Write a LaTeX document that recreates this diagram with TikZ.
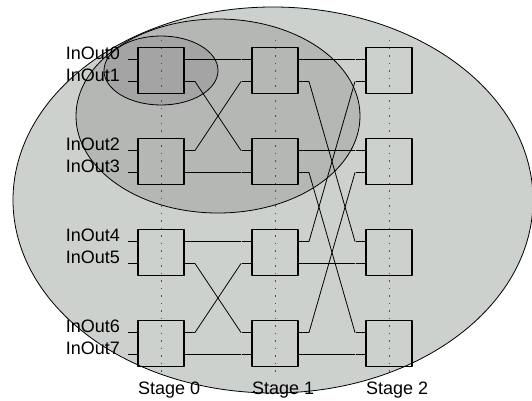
\documentclass[tikz,border=0pt]{standalone}
\usepackage{fontspec}
\setmainfont{Liberation Sans}
\usepackage{tikz}
\usetikzlibrary{arrows}
\definecolor{outergray}{RGB}{205,209,205}
\definecolor{midgray}{RGB}{180,183,180}
\definecolor{innergray}{RGB}{164,164,164}
\definecolor{axisgray}{RGB}{80,80,80}

\begin{document}
\begin{tikzpicture}[line cap=round,line join=round,x=1pt,y=1pt,
  switchbox/.style={draw,line width=1.4pt,minimum size=46pt,inner sep=0pt,outer sep=0pt},
  stub/.style={line width=1.8pt,line cap=butt},
  link/.style={line width=0.8pt},
  stageaxis/.style={axisgray,line width=1pt,line cap=butt,dash pattern=on 1.5pt off 6pt},
  portlabel/.style={anchor=base east,inner sep=0pt,font=\fontsize{18}{20}\selectfont},
  stagelabel/.style={anchor=base west,inner sep=0pt,font=\fontsize{18}{20}\selectfont}]
\useasboundingbox (0,0) rectangle (532,400);
% groups
\draw[fill=outergray,line width=0.8pt] (273,200) ellipse (260 and 193);
\draw[fill=midgray,line width=0.8pt] (218,284) ellipse (142 and 97);
\draw[fill=innergray,line width=0.8pt] (161,329.5) ellipse (57 and 34.5);
% stage axes
\draw[stageaxis] (161,360)-- (161,24);
\draw[stageaxis] (275,360)-- (275,24);
\draw[stageaxis] (389,360)-- (389,24);
% switches
\node[switchbox] (a1) at (161,329.5) {};
\node[switchbox] (a2) at (161,238.5) {};
\node[switchbox] (a3) at (161,147.5) {};
\node[switchbox] (a4) at (161,56.5) {};
\node[switchbox] (b1) at (275,329.5) {};
\node[switchbox] (b2) at (275,238.5) {};
\node[switchbox] (b3) at (275,147.5) {};
\node[switchbox] (b4) at (275,56.5) {};
\node[switchbox] (c1) at (389,329.5) {};
\node[switchbox] (c2) at (389,238.5) {};
\node[switchbox] (c3) at (389,147.5) {};
\node[switchbox] (c4) at (389,56.5) {};
\foreach \b in {a1,a2,a3,a4,b1,b2,b3,b4,c1,c2,c3,c4}{
  \draw[stub] ([yshift=11pt]\b.west)-- +(-10,0);
  \draw[stub] ([yshift=-11pt]\b.west)-- +(-10,0);
}
\foreach \b in {a1,a2,a3,a4,b1,b2,b3,b4}{
  \draw[stub] ([yshift=11pt]\b.east)-- +(11,0);
  \draw[stub] ([yshift=-11pt]\b.east)-- +(11,0);
}
% stage 0 -> stage 1
\draw[link] ([shift={(11,11)}]a1.east)-- ([shift={(-11,11)}]b1.west);
\draw[link] ([shift={(11,-11)}]a1.east)-- ([shift={(-11,11)}]b2.west);
\draw[link] ([shift={(11,11)}]a2.east)-- ([shift={(-11,-11)}]b1.west);
\draw[link] ([shift={(11,-11)}]a2.east)-- ([shift={(-11,-11)}]b2.west);
\draw[link] ([shift={(11,11)}]a3.east)-- ([shift={(-11,11)}]b3.west);
\draw[link] ([shift={(11,-11)}]a3.east)-- ([shift={(-11,11)}]b4.west);
\draw[link] ([shift={(11,11)}]a4.east)-- ([shift={(-11,-11)}]b3.west);
\draw[link] ([shift={(11,-11)}]a4.east)-- ([shift={(-11,-11)}]b4.west);
% stage 1 -> stage 2
\draw[link] ([shift={(11,11)}]b1.east)-- ([shift={(-11,11)}]c1.west);
\draw[link] ([shift={(11,-11)}]b1.east)-- ([shift={(-11,11)}]c3.west);
\draw[link] ([shift={(11,11)}]b2.east)-- ([shift={(-11,11)}]c2.west);
\draw[link] ([shift={(11,-11)}]b2.east)-- ([shift={(-11,11)}]c4.west);
\draw[link] ([shift={(11,11)}]b3.east)-- ([shift={(-11,-11)}]c1.west);
\draw[link] ([shift={(11,-11)}]b3.east)-- ([shift={(-11,-11)}]c3.west);
\draw[link] ([shift={(11,11)}]b4.east)-- ([shift={(-11,-11)}]c2.west);
\draw[link] ([shift={(11,-11)}]b4.east)-- ([shift={(-11,-11)}]c4.west);
% labels
\node[portlabel] (in0) at ([shift={(-18,11)}]a1.west) {InOut0};
\node[portlabel] (in1) at ([shift={(-18,-11)}]a1.west) {InOut1};
\node[portlabel] (in2) at ([shift={(-18,11)}]a2.west) {InOut2};
\node[portlabel] (in3) at ([shift={(-18,-11)}]a2.west) {InOut3};
\node[portlabel] (in4) at ([shift={(-18,11)}]a3.west) {InOut4};
\node[portlabel] (in5) at ([shift={(-18,-11)}]a3.west) {InOut5};
\node[portlabel] (in6) at ([shift={(-18,11)}]a4.west) {InOut6};
\node[portlabel] (in7) at ([shift={(-18,-11)}]a4.west) {InOut7};
\node[stagelabel] (st0) at ([yshift=-27.5pt]a4.south west) {Stage 0};
\node[stagelabel] (st1) at ([yshift=-27.5pt]b4.south west) {Stage 1};
\node[stagelabel] (st2) at ([yshift=-27.5pt]c4.south west) {Stage 2};
\end{tikzpicture}
\end{document}
